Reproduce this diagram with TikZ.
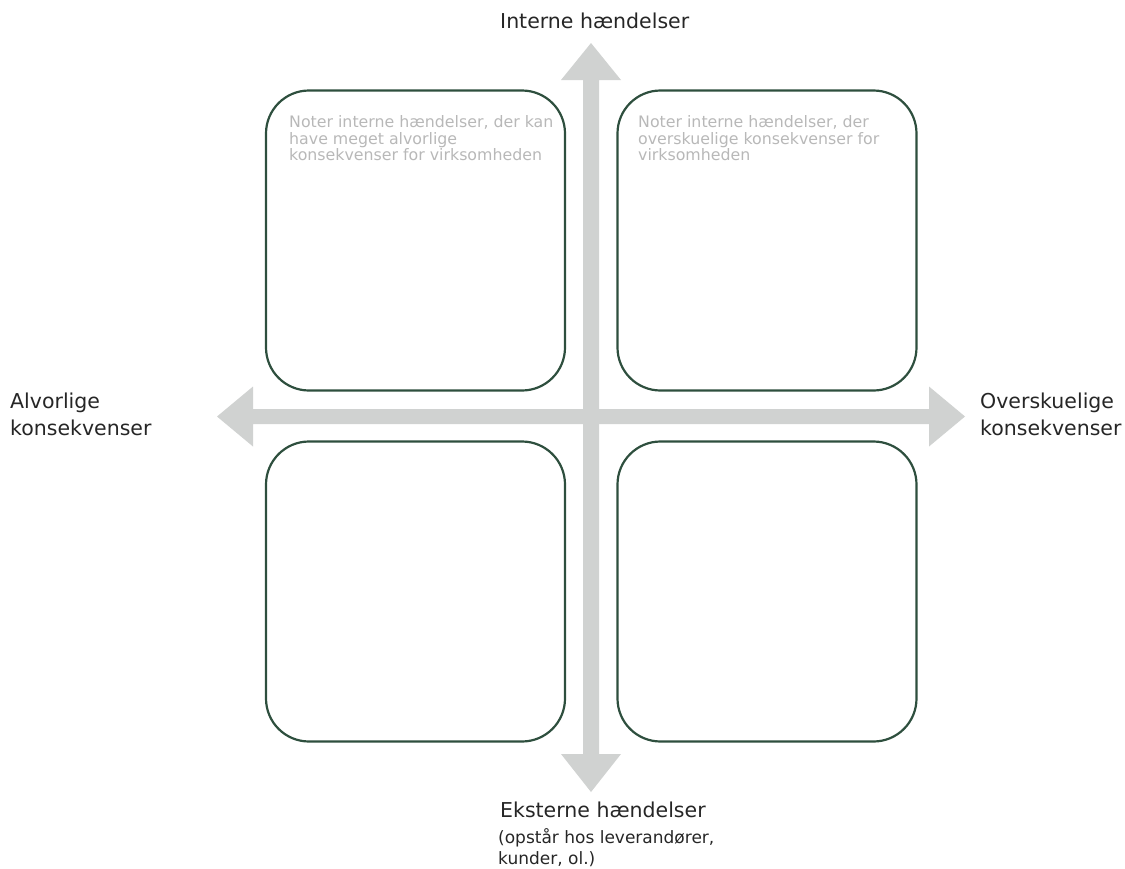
\documentclass[tikz,border=0pt]{standalone}
\usepackage{fontspec}
\setmainfont{DejaVu Sans}
\definecolor{boxgreen}{HTML}{2E4F3E}
\definecolor{axisgray}{HTML}{D0D2D1}
\definecolor{hintgray}{HTML}{B8B8B8}
\definecolor{labelgray}{HTML}{262626}
\begin{document}
\begin{tikzpicture}[x=1pt,y=-1pt,
  quad/.style={draw=boxgreen, line width=2.2pt, rounded corners=43pt,
    minimum width=299pt, minimum height=300pt, inner sep=0pt},
  hint/.style={anchor=base west, inner sep=0pt, text=hintgray,
    font=\fontsize{15.8}{16.5}\selectfont},
  axislbl/.style={anchor=base west, inner sep=0pt, text=labelgray,
    font=\fontsize{20.5}{27}\selectfont},
  sublbl/.style={anchor=base west, inner sep=0pt, text=labelgray,
    font=\fontsize{17}{21}\selectfont},
  axisbar/.style={fill=axisgray, draw=none}]
\useasboundingbox (0,0) rectangle (1125,868);

% vertical axis: internal (up) / external (down)
\fill[axisbar] (591,43) -- (621,80) -- (599,80) -- (599,754) -- (621,754)
  -- (591,792) -- (561,754) -- (583,754) -- (583,80) -- (561,80) -- cycle;
% horizontal axis: severe (left) / manageable (right)
\fill[axisbar] (217,416.5) -- (253,386.5) -- (253,409) -- (929,409)
  -- (929,386.5) -- (965,416.5) -- (929,446.5) -- (929,424) -- (253,424)
  -- (253,446.5) -- cycle;

% the four quadrants
\node[quad] (tl) at (415.5,240.5) {};
\node[quad] (tr) at (767,240.5) {};
\node[quad] (bl) at (415.5,591.5) {};
\node[quad] (br) at (767,591.5) {};

% hints inside the upper quadrants
\node[hint] (tl1) at (289,127.7) {Noter interne hændelser, der kan};
\node[hint] (tl2) at (289,144.3) {have meget alvorlige};
\node[hint] (tl3) at (289,160.8) {konsekvenser for virksomheden};
\node[hint] (tr1) at (638,127.7) {Noter interne hændelser, der};
\node[hint] (tr2) at (638,144.3) {overskuelige konsekvenser for};
\node[hint] (tr3) at (638,160.8) {virksomheden};

% axis labels
\node[axislbl] (top) at (500,28) {Interne hændelser};
\node[axislbl] (left1) at (10,408) {Alvorlige};
\node[axislbl] (left2) at (10,435) {konsekvenser};
\node[axislbl] (right1) at (980,408) {Overskuelige};
\node[axislbl] (right2) at (980,435) {konsekvenser};
\node[axislbl] (bot) at (500,817) {Eksterne hændelser};
\node[sublbl] (bot1) at (498,843) {(opstår hos leverandører,};
\node[sublbl] (bot2) at (498,864) {kunder, ol.)};
\end{tikzpicture}
\end{document}
